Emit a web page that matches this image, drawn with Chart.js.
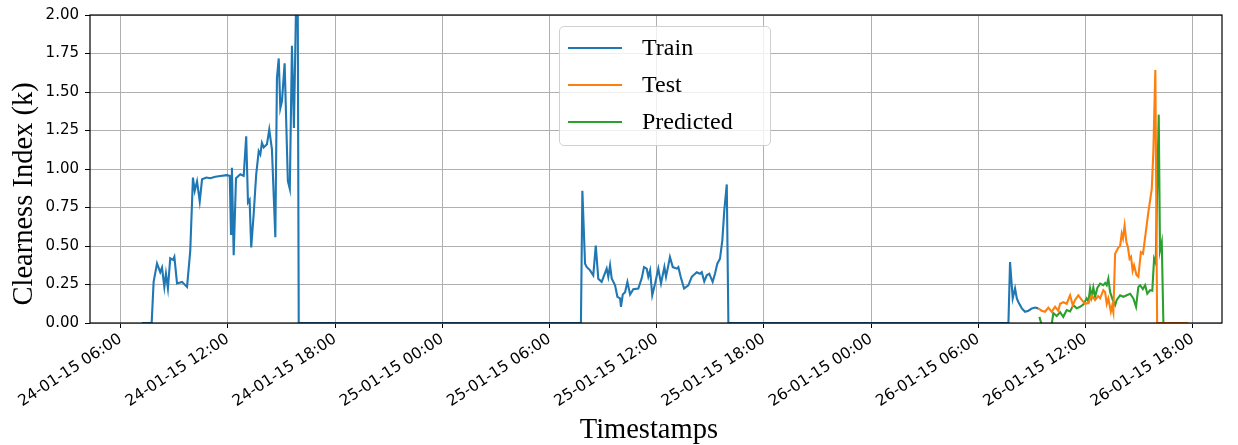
<!DOCTYPE html>
<html>
<head>
<meta charset="utf-8">
<script src="https://cdn.jsdelivr.net/npm/chart.js@4.4.1/dist/chart.umd.min.js"></script>
<style>
  body { margin: 0; background: #fff; }
  #wrap { position: relative; width: 1238px; height: 445px; }
  #legend {
    position: absolute; left: 559px; top: 26px; width: 212px; height: 120px;
    box-sizing: border-box; border: 1px solid #d0d0d0; border-radius: 5px;
    background: rgba(255, 255, 255, 0.8); padding-top: 2px;
  }
  .item { height: 37px; display: flex; align-items: center; font: 24px 'Liberation Serif', serif; color: #000; }
  .swatch { width: 54px; height: 0; border-top: 2px solid; margin-left: 8px; margin-right: 20px; }
</style>
</head>
<body>
<div id="wrap">
  <canvas id="chart" width="1238" height="445"></canvas>
  <div id="legend"></div>
</div>
<script>
// x values are hours counted from 24-01-15 00:00
const tickHours = [6, 12, 18, 24, 30, 36, 42, 48, 54, 60, 66];
const tickLabels = ['24-01-15 06:00', '24-01-15 12:00', '24-01-15 18:00', '25-01-15 00:00',
  '25-01-15 06:00', '25-01-15 12:00', '25-01-15 18:00', '26-01-15 00:00',
  '26-01-15 06:00', '26-01-15 12:00', '26-01-15 18:00'];

const seriesNames = ['Train', 'Test', 'Predicted'];
const seriesColors = ['#1f77b4', '#ff7f0e', '#2ca02c'];

const trainHours = [
  // day 1
  7.20, 7.74, 7.85, 8.04, 8.22, 8.32, 8.45, 8.54, 8.65, 8.78,
  8.93, 9.01, 9.16, 9.44, 9.72, 9.90, 10.05, 10.15, 10.28, 10.43,
  10.56, 10.80, 11.02, 11.30, 11.58, 11.95, 12.11, 12.18, 12.23, 12.33,
  12.46, 12.70, 12.89, 13.03, 13.13, 13.22, 13.31, 13.45, 13.59, 13.73,
  13.82, 13.91, 14.01, 14.19, 14.32, 14.47, 14.66, 14.75, 14.85, 14.94,
  15.03, 15.18, 15.36, 15.47, 15.59, 15.70, 15.90, 15.97,
  // day 2
  31.76, 31.84, 31.99, 32.08, 32.27, 32.45, 32.59, 32.73, 32.92, 33.20,
  33.29, 33.39, 33.48, 33.67, 33.80, 33.95, 34.00, 34.10, 34.23, 34.36,
  34.51, 34.69, 34.97, 35.16, 35.29, 35.44, 35.53, 35.63, 35.75, 35.91,
  36.09, 36.24, 36.43, 36.52, 36.65, 36.74, 36.90, 37.12, 37.21, 37.34,
  37.53, 37.77, 37.96, 38.24, 38.42, 38.52, 38.66, 38.80, 38.94, 39.13,
  39.26, 39.39, 39.54, 39.67, 39.78, 39.92, 40.01,
  // day 3
  55.68, 55.77, 55.92, 56.05, 56.15, 56.24, 56.43, 56.61, 56.80, 56.99,
  57.17, 57.35
];
const trainK = [
  0, 0, 0.267, 0.387, 0.33, 0.36, 0.234, 0.32, 0.225, 0.42,
  0.41, 0.43, 0.257, 0.267, 0.234, 0.47, 0.944, 0.858, 0.92, 0.79,
  0.933, 0.945, 0.94, 0.95, 0.955, 0.96, 0.955, 0.578, 1.008, 0.44,
  0.94, 0.966, 0.955, 1.213, 0.783, 0.8, 0.49, 0.71, 0.966, 1.116,
  1.095, 1.17, 1.14, 1.16, 1.256, 1.127, 0.557, 1.59, 1.718, 1.395,
  1.44, 1.686, 0.923, 0.87, 1.80, 1.266, 2.6, 0,
  0, 0.858, 0.385, 0.364, 0.342, 0.31, 0.503, 0.288, 0.267, 0.353,
  0.30, 0.374, 0.29, 0.245, 0.17, 0.16, 0.105, 0.185, 0.20, 0.267,
  0.185, 0.22, 0.224, 0.29, 0.363, 0.353, 0.30, 0.342, 0.18, 0.256,
  0.353, 0.256, 0.363, 0.30, 0.374, 0.428, 0.363, 0.353, 0.363, 0.30,
  0.224, 0.245, 0.30, 0.33, 0.32, 0.33, 0.27, 0.31, 0.32, 0.267,
  0.32, 0.385, 0.417, 0.535, 0.73, 0.90, 0,
  0, 0.396, 0.16, 0.224, 0.16, 0.135, 0.095, 0.073, 0.08, 0.095,
  0.10, 0.095
];

const testHours = [
  57.35, 57.54, 57.73, 57.91, 58.10, 58.29, 58.47, 58.57, 58.75, 58.94,
  59.13, 59.28, 59.41, 59.59, 59.78, 59.97, 60.15, 60.34, 60.53, 60.70,
  60.81, 60.99, 61.09, 61.18, 61.27, 61.41, 61.48, 61.55, 61.65, 61.83,
  61.93, 62.02, 62.09, 62.18, 62.28, 62.37, 62.46, 62.54, 62.63, 62.71,
  62.85, 62.95, 63.09, 63.21, 63.33, 63.51, 63.70, 63.79, 63.90, 64.00,
  65.75
];
const testK = [
  0.095, 0.08, 0.073, 0.10, 0.073, 0.105, 0.08, 0.125, 0.135, 0.125,
  0.18, 0.115, 0.15, 0.18, 0.15, 0.125, 0.13, 0.18, 0.15, 0.175,
  0.16, 0.213, 0.20, 0.125, 0.16, 0.074, 0.11, 0.07, 0.45, 0.49,
  0.50, 0.58, 0.55, 0.632, 0.525, 0.49, 0.417, 0.43, 0.34, 0.374,
  0.31, 0.30, 0.46, 0.45, 0.557, 0.72, 0.87, 1.116, 1.643, 0,
  0
];

const predHours = [
  57.41, 57.59, 57.84, 58.10, 58.19, 58.38, 58.57, 58.75, 58.94, 59.13,
  59.31, 59.50, 59.69, 59.87, 60.06, 60.16, 60.25, 60.34, 60.43, 60.53,
  60.66, 60.81, 60.99, 61.09, 61.18, 61.27, 61.37, 61.52, 61.65, 61.74,
  61.93, 62.11, 62.30, 62.49, 62.67, 62.82, 62.95, 63.05, 63.20, 63.33,
  63.45, 63.61, 63.73, 63.83, 63.92, 64.09, 64.16, 64.26, 64.35, 64.50
];
const predK = [
  0.04, -0.03, -0.05, -0.01, 0.065, 0.045, 0.07, 0.04, 0.084, 0.075,
  0.116, 0.095, 0.105, 0.12, 0.16, 0.14, 0.224, 0.17, 0.23, 0.17,
  0.23, 0.256, 0.245, 0.26, 0.245, 0.288, 0.20, 0.148, 0.116, 0.15,
  0.18, 0.17, 0.18, 0.19, 0.16, 0.105, 0.234, 0.245, 0.22, 0.245,
  0.19, 0.213, 0.21, 0.417, 0.39, 1.353, 0.47, 0.525, 0, 0
];

const yTitle = 'Clearness Index (k)';
const xTitle = 'Timestamps';

function points(xs, ys) {
  return xs.map((x, i) => ({ x: x, y: ys[i] }));
}

const seriesData = [points(trainHours, trainK), points(testHours, testK), points(predHours, predK)];

const tickFont = { family: 'DejaVu Sans', size: 15 };
const xTickFont = { family: 'DejaVu Sans', size: 15.5 };
const titleFont = { family: 'Liberation Serif', size: 28.5, lineHeight: 1.0 };

// black box round the plot area, like the matplotlib spines
const frame = {
  id: 'frame',
  afterDraw(chart) {
    const { ctx, chartArea: a } = chart;
    ctx.save();
    ctx.strokeStyle = '#000';
    ctx.lineWidth = 1.2;
    ctx.strokeRect(a.left, a.top, a.right - a.left, a.bottom - a.top);
    ctx.restore();
  }
};

new Chart(document.getElementById('chart'), {
  type: 'line',
  data: {
    datasets: seriesNames.map((name, i) => ({
      label: name,
      data: seriesData[i],
      borderColor: seriesColors[i],
      backgroundColor: seriesColors[i],
      borderWidth: 2.1,
      pointRadius: 0,
      tension: 0,
      fill: false
    }))
  },
  options: {
    responsive: false,
    animation: false,
    devicePixelRatio: 1,
    layout: { padding: { top: 13, right: 16, left: 0, bottom: 0 } },
    plugins: { legend: { display: false }, tooltip: { enabled: false } },
    scales: {
      x: {
        type: 'linear',
        bounds: 'data',
        min: 4.29,
        max: 67.63,
        afterBuildTicks: axis => { axis.ticks = tickHours.map(v => ({ value: v })); },
        afterFit: axis => { axis.height = 122; },
        ticks: {
          autoSkip: false,
          minRotation: 33,
          maxRotation: 33,
          font: xTickFont,
          color: '#000',
          padding: 2,
          callback: (v, i) => tickLabels[i]
        },
        grid: { color: '#b0b0b0', lineWidth: 1, tickLength: 5, tickColor: '#000' },
        border: { display: false },
        title: { display: true, text: xTitle + '\u00a0'.repeat(2), font: titleFont, color: '#000', padding: { top: 0, bottom: 0 } }
      },
      y: {
        min: 0,
        max: 2,
        afterFit: axis => { axis.width = 90; },
        ticks: {
          stepSize: 0.25,
          font: tickFont,
          color: '#000',
          padding: 6,
          callback: v => v.toFixed(2)
        },
        grid: { color: '#b0b0b0', lineWidth: 1, tickLength: 5, tickColor: '#000' },
        border: { display: false },
        title: { display: true, text: yTitle + '\u00a0'.repeat(7), font: titleFont, color: '#000', padding: { top: 10, bottom: 0 } }
      }
    }
  },
  plugins: [frame]
});

// legend box inside the plot, upper centre
const legend = document.getElementById('legend');
seriesNames.forEach((name, i) => {
  const row = document.createElement('div');
  row.className = 'item';
  const sw = document.createElement('span');
  sw.className = 'swatch';
  sw.style.borderColor = seriesColors[i];
  row.appendChild(sw);
  row.appendChild(document.createTextNode(name));
  legend.appendChild(row);
});
</script>
</body>
</html>
